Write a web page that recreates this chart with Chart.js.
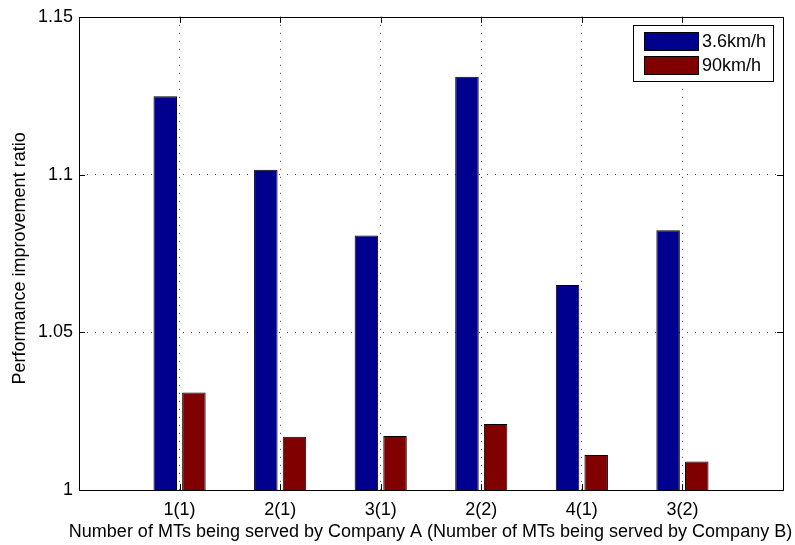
<!DOCTYPE html>
<html>
<head>
<meta charset="utf-8">
<script src="https://cdn.jsdelivr.net/npm/chart.js@4"></script>
<style>
  html, body { margin: 0; padding: 0; background: #ffffff; }
  #wrap { width: 795px; height: 545px; }
</style>
</head>
<body>
<div id="wrap"><canvas id="c" width="795" height="545"></canvas></div>
<script>
// Groups: MTs served by Company A (MTs served by Company B)
const categories = ['1(1)', '2(1)', '3(1)', '2(2)', '4(1)', '3(2)'];
// Performance improvement ratio per speed
const ratioSlow = [1.1248, 1.1015, 1.0807, 1.131, 1.065, 1.0823];   // 3.6km/h
const ratioFast = [1.0309, 1.0169, 1.0171, 1.0209, 1.0111, 1.009];  // 90km/h
const seriesNames = ['3.6km/h', '90km/h'];
const yTicks = [1, 1.05, 1.1, 1.15];
const xTitle = 'Number of MTs being served by Company A (Number of MTs being served by Company B)';
const yTitle = 'Performance improvement ratio';

const FONT = "'Liberation Sans', Arial, Helvetica, sans-serif";
const BLUE = '#00008f';
const RED = '#800000';

// x axis runs from 0 to n+1 with the groups at 1..n, so pad both ends
const xLabels = [''].concat(categories, ['']);
const pad = arr => [null].concat(arr, [null]);

// Box, inward tick marks, axis titles and the inset legend
const framePlugin = {
  id: 'frame',
  afterDatasetsDraw(chart) {
    const { ctx, chartArea: a, scales } = chart;
    const tl = 6;
    ctx.save();
    ctx.strokeStyle = '#000';
    ctx.lineWidth = 1;
    ctx.beginPath();
    for (let i = 1; i <= categories.length; i++) {
      const x = Math.round(scales.x.getPixelForValue(i)) + 0.5;
      ctx.moveTo(x, a.bottom); ctx.lineTo(x, a.bottom - tl);
      ctx.moveTo(x, a.top); ctx.lineTo(x, a.top + tl);
    }
    yTicks.forEach(v => {
      const y = Math.round(scales.y.getPixelForValue(v)) + 0.5;
      ctx.moveTo(a.left, y); ctx.lineTo(a.left + tl, y);
      ctx.moveTo(a.right, y); ctx.lineTo(a.right - tl, y);
    });
    ctx.stroke();
    ctx.strokeRect(Math.round(a.left) + 0.5, Math.round(a.top) + 0.5,
                   Math.round(a.right - a.left), Math.round(a.bottom - a.top));

    // axis titles
    ctx.fillStyle = '#000';
    ctx.font = '18px ' + FONT;
    ctx.textAlign = 'center';
    ctx.textBaseline = 'alphabetic';
    ctx.fillText(xTitle, (a.left + a.right) / 2 - 0.5, 537);
    ctx.save();
    ctx.translate(25, (a.top + a.bottom) / 2 + 5);
    ctx.rotate(-Math.PI / 2);
    ctx.fillText(yTitle, 0, 0);
    ctx.restore();

    // legend box in the upper right corner
    const lx = 633, ly = 25, lw = 140, lh = 56;
    ctx.fillStyle = '#fff';
    ctx.fillRect(lx, ly, lw, lh);
    ctx.strokeRect(lx + 0.5, ly + 0.5, lw, lh);
    ctx.textBaseline = 'middle';
    ctx.textAlign = 'left';
    chart.data.datasets.forEach((ds, i) => {
      const sy = ly + 7 + i * 24;
      ctx.fillStyle = ds.backgroundColor;
      ctx.fillRect(lx + 11, sy, 54, 18);
      ctx.strokeRect(lx + 11.5, sy + 0.5, 54, 18);
      ctx.fillStyle = '#000';
      ctx.fillText(ds.label, lx + 69, sy + 10);
    });
    ctx.restore();
  }
};

const edgeHidden = (n) => (c) => (c.index === 0 || c.index === n - 1) ? 'rgba(0,0,0,0)' : 'rgba(0,0,0,0.75)';

new Chart(document.getElementById('c'), {
  type: 'bar',
  data: {
    labels: xLabels,
    datasets: [
      { label: seriesNames[0], data: pad(ratioSlow), backgroundColor: BLUE, borderColor: '#000', borderWidth: 1,
        categoryPercentage: 0.57, barPercentage: 0.82 },
      { label: seriesNames[1], data: pad(ratioFast), backgroundColor: RED, borderColor: '#000', borderWidth: 1,
        categoryPercentage: 0.57, barPercentage: 0.82 }
    ]
  },
  options: {
    responsive: false,
    animation: false,
    devicePixelRatio: 1,
    layout: { padding: { top: 16, right: 12, left: 0, bottom: 0 } },
    plugins: { legend: { display: false }, tooltip: { enabled: false } },
    scales: {
      x: {
        type: 'category',
        offset: false,
        grid: { display: true, offset: false, drawTicks: false, color: edgeHidden(xLabels.length), lineWidth: 1 },
        border: { display: false, dash: [1, 7] },
        ticks: { color: '#000', font: { family: FONT, size: 18 }, padding: 9, maxRotation: 0, autoSkip: false },
        title: { display: false },
        afterFit(s) { s.height = 55; }
      },
      y: {
        min: 1, max: 1.15,
        afterBuildTicks(s) { s.ticks = yTicks.map(v => ({ value: v })); },
        grid: { display: true, drawTicks: false, color: edgeHidden(yTicks.length), lineWidth: 1 },
        border: { display: false, dash: [1, 7] },
        ticks: { color: '#000', font: { family: FONT, size: 18 }, padding: 6,
                 callback: v => String(Number(v.toFixed(2))) },
        title: { display: false },
        afterFit(s) { s.width = 79; }
      }
    }
  },
  plugins: [framePlugin]
});
</script>
</body>
</html>
